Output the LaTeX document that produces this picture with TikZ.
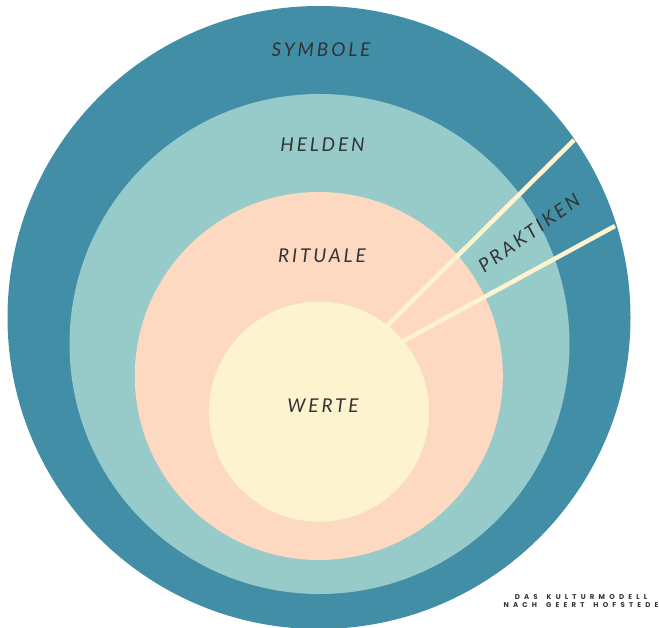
\documentclass[tikz,border=0pt]{standalone}
\usepackage{fontspec}
\newfontfamily\lblfont[LetterSpace=15]{Lato}
\newfontfamily\capfont[LetterSpace=60]{Poppins}
\definecolor{darkteal}{HTML}{428EA6}
\definecolor{lightteal}{HTML}{96CBCA}
\definecolor{peach}{HTML}{FDD9C1}
\definecolor{cream}{HTML}{FDF3CE}
\definecolor{txt}{HTML}{333333}
\newcommand{\wsp}{\kern 9pt\relax}
\begin{document}
\begin{tikzpicture}[x=1pt,y=-1pt,
  lbl/.style={font=\lblfont\itshape\fontsize{19}{19}\selectfont, text=txt, inner sep=0pt},
  captext/.style={font=\capfont\bfseries\fontsize{7}{8.8}\selectfont, text=txt, align=center, inner sep=0pt},
  divider/.style={cream, line width=4.5pt}]
\useasboundingbox (0,0) rectangle (659,628);
\clip (0,0) rectangle (659,628);
\fill[white] (0,0) rectangle (659,628);
\fill[darkteal] (319,317.5) circle (311.5pt);
\fill[lightteal] (319.5,344) circle (250pt);
\fill[peach] (318.8,376) circle (184pt);
\fill[cream] (319,411.7) circle (110pt);
\coordinate (a1) at (384,329);
\coordinate (b1) at (574,140);
\coordinate (a2) at (398,344);
\coordinate (b2) at (615,226);
\begin{scope}
\clip (319,317.5) circle (311.5pt);
\draw[divider] (a1) -- (b1);
\draw[divider] (a2) -- (b2);
\end{scope}
\node[lbl] (symbole) at (321,49.3) {SYMBOLE};
\node[lbl] (helden) at (322.5,145) {HELDEN};
\node[lbl] (rituale) at (322,255.7) {RITUALE};
\node[lbl] (werte) at (323,405.3) {WERTE};
\node[lbl, rotate=35.4] (praktiken) at (529,233) {PRAKTIKEN};
\node[captext] (caption) at (581,601) {DAS\wsp KULTURMODELL\\NACH\wsp GEERT\wsp HOFSTEDE};
\end{tikzpicture}
\end{document}
